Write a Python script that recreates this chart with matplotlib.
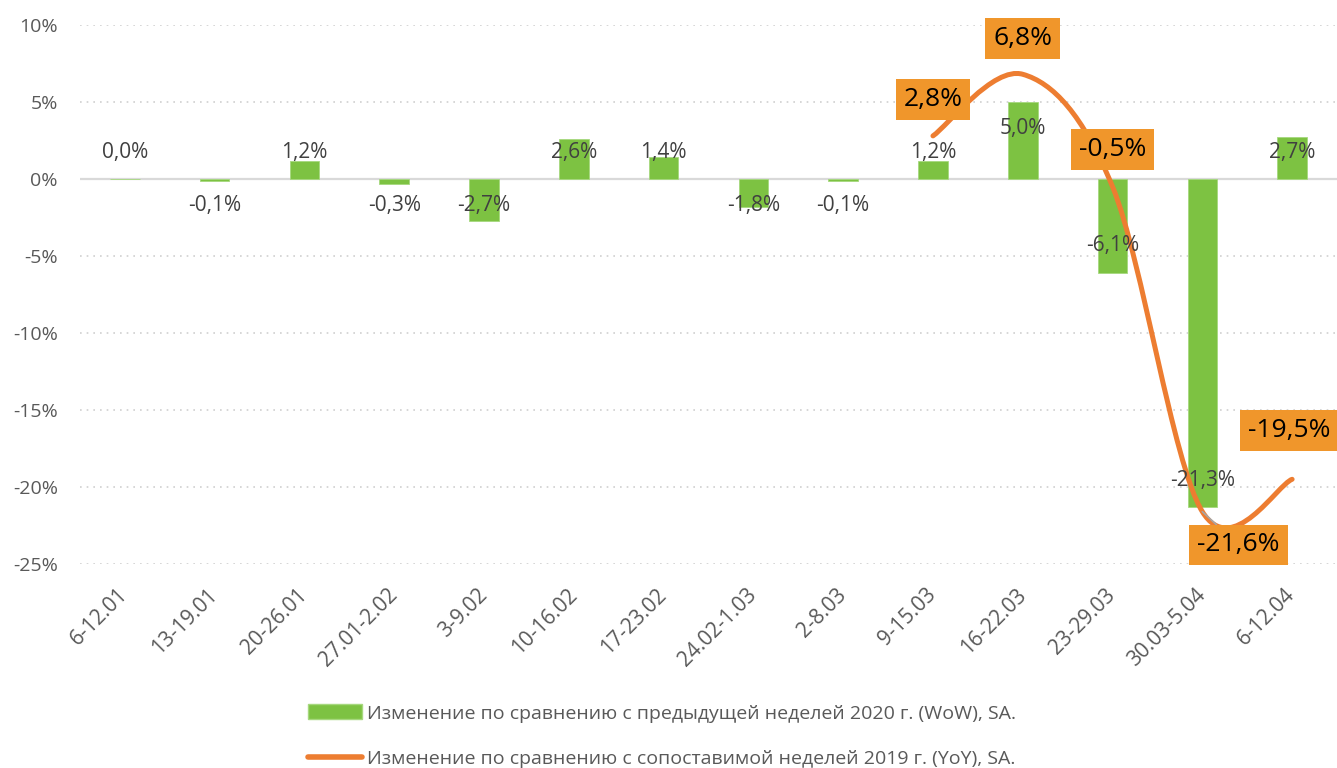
import numpy as np
import matplotlib.pyplot as plt
from matplotlib.path import Path
from matplotlib.patches import PathPatch, Patch
from matplotlib.lines import Line2D

plt.rcParams['font.family'] = ['Open Sans', 'DejaVu Sans']

weeks = ['6-12.01', '13-19.01', '20-26.01', '27.01-2.02', '3-9.02', '10-16.02',
         '17-23.02', '24.02-1.03', '2-8.03', '9-15.03', '16-22.03', '23-29.03',
         '30.03-5.04', '6-12.04']
wow = [0.0, -0.1, 1.2, -0.3, -2.7, 2.6, 1.4, -1.8, -0.1, 1.2, 5.0, -6.1, -21.3, 2.7]
yoy_weeks = [9, 10, 11, 12, 13]
yoy = [2.8, 6.8, -0.5, -21.6, -19.5]

wow_name = 'Изменение по сравнению с предыдущей неделей 2020 г. (WoW), SA.'
yoy_name = 'Изменение по сравнению с сопоставимой неделей 2019 г. (YoY), SA.'

green = '#7DC242'
orange = '#ED7D31'
box_orange = '#F0962B'
grey_text = '#595959'
dark_text = '#404040'


def fmt(v):
    return ('%.1f%%' % v).replace('.', ',')


def smooth_path(xs, ys):
    # excel-like smoothed line: cubic bezier, catmull-rom style control points
    pts = np.column_stack([xs, ys]).astype(float)
    ext = np.vstack([pts[0], pts, pts[-1]])
    verts = [tuple(pts[0])]
    codes = [Path.MOVETO]
    for i in range(len(pts) - 1):
        p0, p1, p2, p3 = ext[i], ext[i + 1], ext[i + 2], ext[i + 3]
        c1 = p1 + (p2 - p0) / 6
        c2 = p2 - (p3 - p1) / 6
        verts += [tuple(c1), tuple(c2), tuple(p2)]
        codes += [Path.CURVE4] * 3
    return Path(verts, codes)


fig = plt.figure(figsize=(13.37, 7.68), dpi=100)
ax = fig.add_axes([80 / 1337, 1 - 564 / 768, 1257 / 1337, 539 / 768])

x = np.arange(len(weeks))
ax.bar(x, wow, width=0.33, color=green, edgecolor='#A6D87E', linewidth=0.6, zorder=3)
ax.axhline(0, color='#D9D9D9', lw=1.6, zorder=2)

# bar labels
for xi, v in zip(x, wow):
    s = 1 if v >= 0 else -1
    y = s * max(1.75, abs(v) - 1.75)
    ax.text(xi, y, fmt(v), ha='center', va='center', fontsize=15,
            color=dark_text, zorder=5)

# yoy line
ax.add_patch(PathPatch(smooth_path(yoy_weeks, yoy), fill=False, edgecolor=orange,
                       lw=3.6, capstyle='round', zorder=4))

offsets = [(0, 26), (0, 26), (0, 27), (26, -24), (-2, 35)]
for xi, v, off in zip(yoy_weeks, yoy, offsets):
    kw = {}
    if v == -21.6:
        kw['arrowprops'] = dict(arrowstyle='-', color='#A6A6A6', lw=1.2,
                                shrinkA=0, shrinkB=0)
    ax.annotate(fmt(v), (xi, v), xytext=off, textcoords='offset points',
                ha='center', va='center', fontsize=19, color='black', zorder=6,
                bbox=dict(boxstyle='square,pad=0.3', fc=box_orange, ec='none'),
                **kw)

ax.set_xlim(-0.5, 13.5)
ax.set_ylim(-25, 10)
ax.set_yticks(np.arange(-25, 11, 5))
ax.set_yticklabels(['%d%%' % t for t in np.arange(-25, 11, 5)])
ax.yaxis.grid(True, color='#D0D0D0', linestyle=(0, (1, 3)), lw=1.2, zorder=0)
ax.set_axisbelow(True)
for sp in ax.spines.values():
    sp.set_visible(False)
ax.tick_params(axis='y', length=0, pad=16, labelsize=14, labelcolor=grey_text)
ax.tick_params(axis='x', length=0, pad=20, labelsize=15, labelcolor=grey_text)
ax.set_xticks(x)
ax.set_xticklabels(weeks, rotation=45, ha='right', va='center',
                   rotation_mode='anchor')

handles = [Patch(facecolor=green, edgecolor='#A6D87E'),
           Line2D([0], [0], color=orange, lw=4, solid_capstyle='round')]
fig.legend(handles, [wow_name, yoy_name], loc='lower left',
           bbox_to_anchor=(308 / 1337, 0.0), frameon=False, fontsize=14,
           labelcolor=grey_text, labelspacing=1.4, handlelength=2.8,
           handleheight=0.8, handletextpad=0.25, borderpad=0.0,
           borderaxespad=0)

fig.savefig('out.png', dpi=100)
